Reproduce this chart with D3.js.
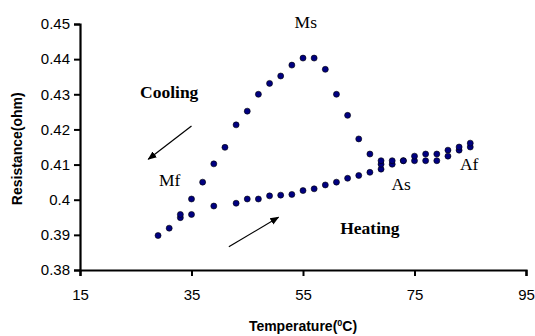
<!DOCTYPE html>
<html>
<head>
<meta charset="utf-8">
<script src="https://cdn.jsdelivr.net/npm/d3@7"></script>
<style>
  html, body { margin: 0; padding: 0; background: #fff; }
  svg { display: block; }
</style>
</head>
<body>
<svg id="chart" width="535" height="336"></svg>
<script>
// ---- Data ----
const xTicks = [15, 35, 55, 75, 95];
const yTicks = [0.38, 0.39, 0.40, 0.41, 0.42, 0.43, 0.44, 0.45];

const coolingTemp = [85, 83, 81, 79, 77, 75, 73, 71, 69, 67, 65, 63, 61, 59, 57, 55, 53, 51, 49, 47, 45, 43, 41, 39, 37, 35, 33, 31, 29];
const coolingRes  = [0.4161, 0.4150, 0.4141, 0.4130, 0.4130, 0.4124, 0.4111, 0.4111, 0.4111, 0.4130, 0.4173, 0.4240, 0.4300, 0.4371, 0.4403, 0.4403, 0.4383, 0.4352, 0.4331, 0.4300, 0.4252, 0.4213, 0.4149, 0.4102, 0.4050, 0.4002, 0.3958, 0.3919, 0.3898];

const heatingTemp = [33, 35, 39, 43, 45, 47, 49, 51, 53, 55, 57, 59, 61, 63, 65, 67, 69, 69, 71, 73, 75, 77, 79, 81, 83, 85];
const heatingRes  = [0.3949, 0.3958, 0.3982, 0.3990, 0.4002, 0.4002, 0.4011, 0.4013, 0.4015, 0.4026, 0.4031, 0.4042, 0.4050, 0.4061, 0.4069, 0.4078, 0.4087, 0.4101, 0.4101, 0.4111, 0.4111, 0.4111, 0.4111, 0.4124, 0.4141, 0.4150];

const labelTexts = ["Ms", "Mf", "As", "Af"];
const labelTemps = [55.5, 31.1, 72.6, 84.8];
const labelRes   = [0.4489, 0.4040, 0.4028, 0.4085];

const phaseTexts = ["Cooling", "Heating"];
const phaseTemps = [31.0, 67.0];
const phaseRes   = [0.4289, 0.3902];

const arrowFromT = [35.0, 41.7];
const arrowFromR = [0.4210, 0.3866];
const arrowToT   = [27.25, 50.6];
const arrowToR   = [0.4115, 0.3950];

// ---- Chart ----
const svg = d3.select("#chart");
const x = d3.scaleLinear().domain([15, 95]).range([80, 526]);
const y = d3.scaleLinear().domain([0.38, 0.45]).range([270, 24]);

const axisFont = "'Liberation Sans', Arial, sans-serif";
const serifFont = "'Liberation Serif', 'Times New Roman', serif";

// X axis
const gx = svg.append("g")
  .attr("transform", `translate(0,${y(0.38)})`)
  .call(d3.axisBottom(x).tickValues(xTicks).tickFormat(d3.format("d")).tickSizeOuter(0).tickSize(6).tickPadding(13));
// Y axis
const gy = svg.append("g")
  .attr("transform", `translate(${x(15)},0)`)
  .call(d3.axisLeft(y).tickValues(yTicks).tickFormat(d => d3.format(".2~f")(d)).tickSizeOuter(0).tickSize(6).tickPadding(4));

[gx, gy].forEach(g => {
  g.select(".domain").attr("stroke", "#000").attr("stroke-width", 2.2);
  g.selectAll(".tick line").attr("stroke", "#000").attr("stroke-width", 2);
  g.selectAll(".tick text").attr("fill", "#000")
    .style("font-family", axisFont).style("font-size", "15px");
});

// Axis titles
const xt = svg.append("text")
  .attr("x", x(55)).attr("y", 331)
  .attr("text-anchor", "middle")
  .style("font-family", axisFont).style("font-size", "14px").style("font-weight", "bold")
  .attr("fill", "#000");
xt.append("tspan").text("Temperature(");
xt.append("tspan").text("0").attr("dy", -5).style("font-size", "9px");
xt.append("tspan").text("C)").attr("dy", 5);

svg.append("text")
  .attr("transform", `translate(22,${y(0.4145)}) rotate(-90)`)
  .attr("text-anchor", "middle")
  .style("font-family", axisFont).style("font-size", "14px").style("font-weight", "bold")
  .attr("fill", "#000")
  .text("Resistance(ohm)");

// Points
const coolingPts = coolingTemp.map((t, i) => ({t, r: coolingRes[i]}));
const heatingPts = heatingTemp.map((t, i) => ({t, r: heatingRes[i]}));

[heatingPts, coolingPts].forEach(pts => {
  svg.append("g").selectAll("circle").data(pts).join("circle")
    .attr("cx", d => x(d.t)).attr("cy", d => y(d.r)).attr("r", 3)
    .attr("fill", "#000080").attr("stroke", "#000").attr("stroke-width", 0.6);
});

// Transformation labels
svg.append("g").selectAll("text").data(labelTexts).join("text")
  .attr("x", (d, i) => x(labelTemps[i])).attr("y", (d, i) => y(labelRes[i]))
  .attr("text-anchor", "middle")
  .style("font-family", serifFont).style("font-size", "17.5px")
  .attr("fill", "#000")
  .text(d => d);

// Cooling / Heating labels
svg.append("g").selectAll("text").data(phaseTexts).join("text")
  .attr("x", (d, i) => x(phaseTemps[i])).attr("y", (d, i) => y(phaseRes[i]))
  .attr("text-anchor", "middle")
  .style("font-family", serifFont).style("font-size", "17.5px").style("font-weight", "bold")
  .attr("fill", "#000")
  .text(d => d);

// Arrows
const defs = svg.append("defs");
defs.append("marker").attr("id", "arr")
  .attr("viewBox", "0 0 10 10").attr("refX", 9).attr("refY", 5)
  .attr("markerWidth", 9).attr("markerHeight", 9).attr("markerUnits", "userSpaceOnUse")
  .attr("orient", "auto")
  .append("path").attr("d", "M0,1 L10,5 L0,9 Z").attr("fill", "#000");

arrowFromT.forEach((t, i) => {
  svg.append("line")
    .attr("x1", x(t)).attr("y1", y(arrowFromR[i]))
    .attr("x2", x(arrowToT[i])).attr("y2", y(arrowToR[i]))
    .attr("stroke", "#000").attr("stroke-width", 1.2)
    .attr("marker-end", "url(#arr)");
});
</script>
</body>
</html>
